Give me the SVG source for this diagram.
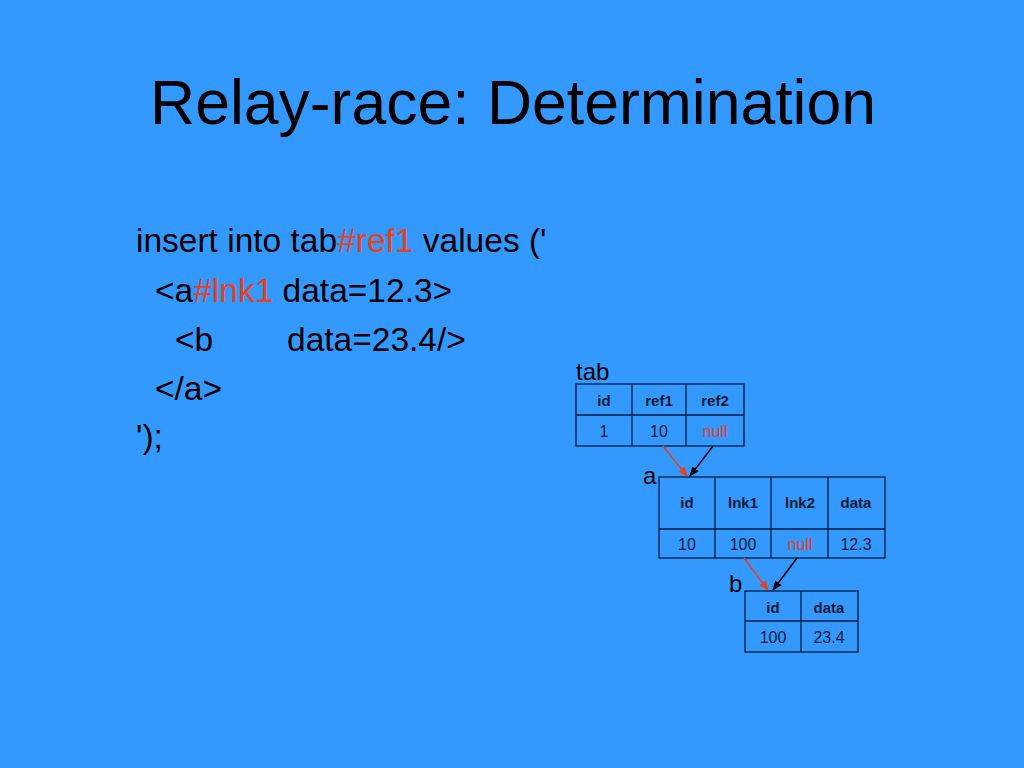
<svg xmlns="http://www.w3.org/2000/svg" width="1024" height="768" viewBox="0 0 1024 768">
<style>
.t{font-family:"Liberation Sans",Arial,sans-serif;fill:#000}
.body{font-size:33.5px}
.red{fill:#E8401C}
.cell{fill:none;stroke:#0a1a3a;stroke-width:1.3}
.hd{font-family:"Liberation Sans",Arial,sans-serif;font-size:15px;font-weight:bold;fill:#0a1a33;text-anchor:middle}
.vl{font-family:"Liberation Sans",Arial,sans-serif;font-size:16px;fill:#0a1a33;text-anchor:middle}
.nl{fill:#E8401C}
.lbl{font-family:"Liberation Sans",Arial,sans-serif;font-size:24px;fill:#000}
</style>
<defs>
<marker id="ab" markerWidth="10" markerHeight="10" refX="9" refY="5" orient="auto" markerUnits="userSpaceOnUse"><path d="M0,1 L10,5 L0,9 Z" fill="#000"/></marker>
<marker id="ar" markerWidth="10" markerHeight="10" refX="9" refY="5" orient="auto" markerUnits="userSpaceOnUse"><path d="M0,1 L10,5 L0,9 Z" fill="#E8401C"/></marker>
</defs>
<rect width="1024" height="768" fill="#3399FF"/>
<text class="t" x="513" y="124" font-size="62.5" text-anchor="middle">Relay-race: Determination</text>
<g id="code" class="t body">
<text x="136" y="252">insert into tab<tspan class="red">#ref1</tspan> values ('</text>
<text x="155" y="302">&lt;a<tspan class="red">#lnk1</tspan> data=12.3&gt;</text>
<text x="175" y="351">&lt;b<tspan x="287">data=23.4/&gt;</tspan></text>
<text x="155" y="400">&lt;/a&gt;</text>
<text x="136" y="448">');</text>
</g>
<g id="tab">
<text class="lbl" x="576" y="380">tab</text>
<rect class="cell" x="576" y="384" width="168" height="62"/>
<line class="cell" x1="576" y1="415" x2="744" y2="415"/>
<line class="cell" x1="632" y1="384" x2="632" y2="446"/>
<line class="cell" x1="686" y1="384" x2="686" y2="446"/>
<text class="hd" x="604" y="406">id</text>
<text class="hd" x="659" y="406">ref1</text>
<text class="hd" x="715" y="406">ref2</text>
<text class="vl" x="604" y="437">1</text>
<text class="vl" x="659" y="437">10</text>
<text class="vl nl" x="715" y="437">null</text>
</g>
<g id="a">
<text class="lbl" x="643" y="484">a</text>
<rect class="cell" x="659" y="477" width="226" height="81"/>
<line class="cell" x1="659" y1="529" x2="885" y2="529"/>
<line class="cell" x1="715" y1="477" x2="715" y2="558"/>
<line class="cell" x1="771" y1="477" x2="771" y2="558"/>
<line class="cell" x1="828" y1="477" x2="828" y2="558"/>
<text class="hd" x="687" y="508">id</text>
<text class="hd" x="743" y="508">lnk1</text>
<text class="hd" x="800" y="508">lnk2</text>
<text class="hd" x="856" y="508">data</text>
<text class="vl" x="687" y="550">10</text>
<text class="vl" x="743" y="550">100</text>
<text class="vl nl" x="800" y="550">null</text>
<text class="vl" x="856" y="550">12.3</text>
</g>
<g id="b">
<text class="lbl" x="729" y="592">b</text>
<rect class="cell" x="745" y="591" width="113" height="61"/>
<line class="cell" x1="745" y1="621" x2="858" y2="621"/>
<line class="cell" x1="801" y1="591" x2="801" y2="652"/>
<text class="hd" x="773" y="613">id</text>
<text class="hd" x="829" y="613">data</text>
<text class="vl" x="773" y="643">100</text>
<text class="vl" x="829" y="643">23.4</text>
</g>
<g id="connectors" stroke-width="1.5">
<line x1="663" y1="446" x2="687" y2="476" stroke="#E8401C" marker-end="url(#ar)"/>
<line x1="713" y1="446" x2="690" y2="476" stroke="#000" marker-end="url(#ab)"/>
<line x1="744" y1="558" x2="768" y2="590" stroke="#E8401C" marker-end="url(#ar)"/>
<line x1="797" y1="558" x2="773" y2="590" stroke="#000" marker-end="url(#ab)"/>
</g>
</svg>
